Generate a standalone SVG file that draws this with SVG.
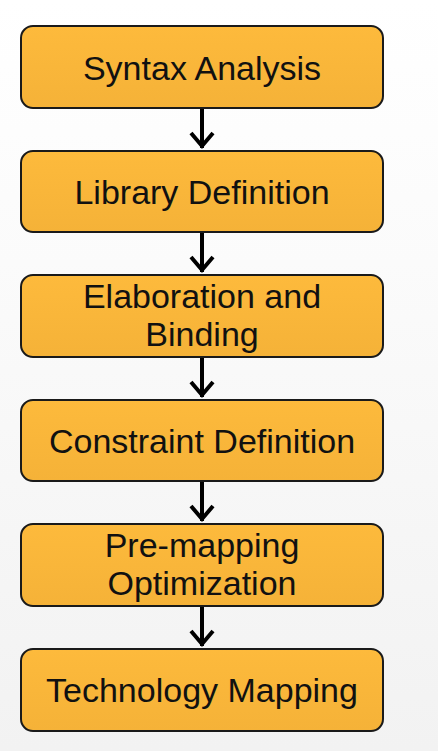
<svg xmlns="http://www.w3.org/2000/svg" width="438" height="751" viewBox="0 0 438 751">
<defs>
<linearGradient id="bg" x1="0" y1="0" x2="0" y2="1">
<stop offset="0" stop-color="#ffffff"/>
<stop offset="0.35" stop-color="#fbfbfb"/>
<stop offset="1" stop-color="#f2f2f2"/>
</linearGradient>
<linearGradient id="fill" x1="0" y1="0" x2="0" y2="1">
<stop offset="0" stop-color="#FDBA3C"/>
<stop offset="1" stop-color="#F5B238"/>
</linearGradient>
</defs>
<style>
.box{fill:url(#fill);stroke:#1a1a1a;stroke-width:2}
.t{font-family:"Liberation Sans",Arial,sans-serif;font-size:34px;fill:#111;text-anchor:middle}
.ln{stroke:#000;stroke-width:4;fill:none}
.hd{stroke:#000;stroke-width:4;fill:none;stroke-linejoin:miter}
</style>
<rect width="438" height="751" fill="url(#bg)"/>
<g id="connectors">
<path class="ln" d="M202 108V148"/><path class="hd" d="M191 133L202 146L213 133"/>
<path class="ln" d="M202 232V272"/><path class="hd" d="M191 257L202 270L213 257"/>
<path class="ln" d="M202 357V397"/><path class="hd" d="M191 382L202 395L213 382"/>
<path class="ln" d="M202 481V521"/><path class="hd" d="M191 506L202 519L213 506"/>
<path class="ln" d="M202 606V646"/><path class="hd" d="M191 631L202 644L213 631"/>
</g>
<g id="n1"><rect class="box" x="21" y="26" width="362" height="82" rx="12"/><text class="t" x="202" y="80">Syntax Analysis</text></g>
<g id="n2"><rect class="box" x="21" y="151" width="362" height="81" rx="12"/><text class="t" x="202" y="204">Library Definition</text></g>
<g id="n3"><rect class="box" x="21" y="275" width="362" height="82" rx="12"/><text class="t" x="202" y="308">Elaboration and</text><text class="t" x="202" y="346">Binding</text></g>
<g id="n4"><rect class="box" x="21" y="400" width="362" height="81" rx="12"/><text class="t" x="202" y="453">Constraint Definition</text></g>
<g id="n5"><rect class="box" x="21" y="524" width="362" height="82" rx="12"/><text class="t" x="202" y="557">Pre-mapping</text><text class="t" x="202" y="595">Optimization</text></g>
<g id="n6"><rect class="box" x="21" y="649" width="362" height="82" rx="12"/><text class="t" x="202" y="702">Technology Mapping</text></g>
</svg>
